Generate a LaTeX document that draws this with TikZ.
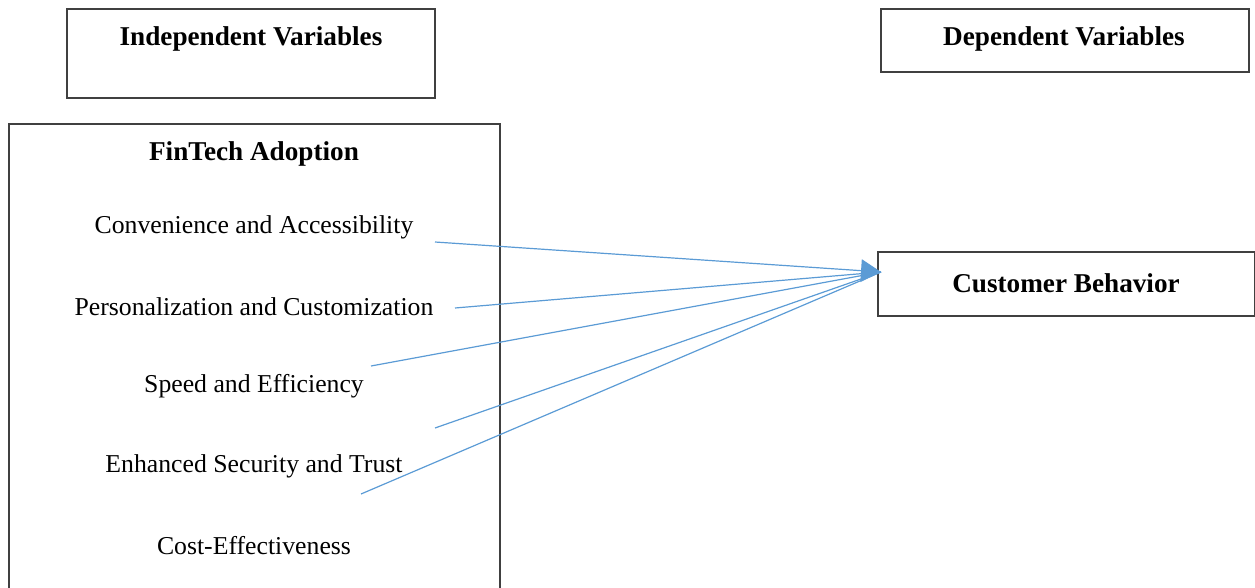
\documentclass[tikz,border=0pt]{standalone}
\usepackage{fontspec}
\setmainfont{Liberation Serif}
\usetikzlibrary{arrows.meta}
\begin{document}
\begin{tikzpicture}[x=0.75pt,y=-0.75pt,
  box/.style={draw=black!75,line width=0.8pt},
  item/.style={font=\fontsize{19.3}{22}\selectfont,inner sep=0pt},
  head/.style={font=\bfseries\fontsize{20.4}{24}\selectfont,inner sep=0pt},
  link/.style={draw=arrowblue,line width=0.9pt},
  tiplink/.style={link,-{Triangle[length=15pt,width=17pt]}}]
\definecolor{arrowblue}{HTML}{5B9BD5}
\useasboundingbox (0,0) rectangle (1255,588);
\clip (0,0) rectangle (1255,588);
\draw[box] (67,9) rectangle (435,98);
\draw[box] (881,9) rectangle (1249,72);
\draw[box] (9,124) rectangle (500,600);
\draw[box] (878,252) rectangle (1254.5,316);
\node[head] (iv) at (251,39) {Independent Variables};
\node[head] (dv) at (1064,39) {Dependent Variables};
\node[head] (fa) at (254,154) {FinTech Adoption};
\node[head] (cb) at (1066,283) {Customer Behavior};
\node[item] (i1) at (254,227) {Convenience and Accessibility};
\node[item] (i2) at (254,307) {Personalization and Customization};
\node[item] (i3) at (254,386) {Speed and Efficiency};
\node[item] (i4) at (254,466) {Enhanced Security and Trust};
\node[item] (i5) at (254,546) {Cost-Effectiveness};
\coordinate (s1) at (435,242);
\coordinate (s2) at (455,308);
\coordinate (s3) at (371,366);
\coordinate (s4) at (435,428);
\coordinate (s5) at (361,494);
\coordinate (t) at (881,272);
\draw[link] (s2) -- (t);
\draw[link] (s3) -- (t);
\draw[link] (s4) -- (t);
\draw[link] (s5) -- (t);
\draw[tiplink] (s1) -- (t);
\end{tikzpicture}
\end{document}
